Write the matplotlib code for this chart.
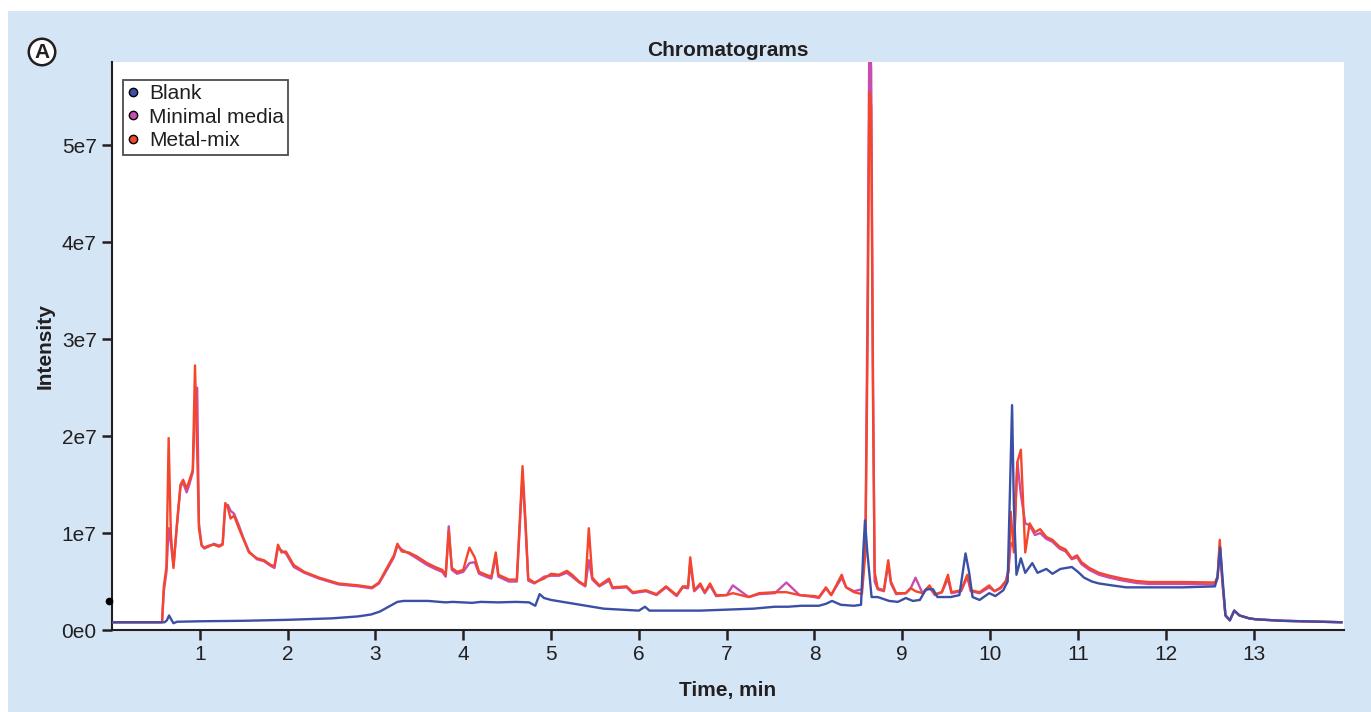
import matplotlib
matplotlib.use("Agg")
import matplotlib.pyplot as plt
from matplotlib.lines import Line2D
from matplotlib.patches import Rectangle
import numpy as np

plt.rcParams['font.family'] = ['Liberation Sans', 'DejaVu Sans']

# ---------------- data (intensity in millions) ----------------
metal_t = [0.00, 0.30, 0.57, 0.59, 0.62, 0.645, 0.67, 0.70, 0.74, 0.78, 0.81, 0.85, 0.88, 0.92, 0.945, 0.97, 0.99,
           1.02, 1.05, 1.10, 1.16, 1.22, 1.26, 1.29, 1.32, 1.35, 1.39, 1.44, 1.50, 1.56, 1.65, 1.73, 1.81, 1.85,
           1.89, 1.93, 1.98, 2.07, 2.19, 2.36, 2.58, 2.81, 2.96, 3.04, 3.13, 3.21, 3.25, 3.30, 3.38, 3.47, 3.59,
           3.68, 3.76, 3.80, 3.835, 3.87, 3.93, 4.00, 4.07, 4.13, 4.18, 4.26, 4.32, 4.37, 4.40, 4.52, 4.61, 4.675,
           4.71, 4.74, 4.81, 4.92, 5.00, 5.09, 5.18, 5.24, 5.32, 5.39, 5.43, 5.47, 5.55, 5.66, 5.70, 5.86, 5.93,
           6.08, 6.20, 6.31, 6.43, 6.50, 6.56, 6.585, 6.63, 6.70, 6.75, 6.81, 6.88, 7.00, 7.07, 7.25, 7.37, 7.55,
           7.68, 7.83, 8.00, 8.05, 8.13, 8.19, 8.31, 8.36, 8.45, 8.54, 8.58, 8.605, 8.625, 8.645, 8.665, 8.685,
           8.72, 8.79,
           8.84, 8.87, 8.93, 9.04, 9.10, 9.15, 9.23, 9.31, 9.37, 9.45, 9.52, 9.56, 9.67, 9.74, 9.78, 9.88, 9.99,
           10.05, 10.12, 10.18, 10.21, 10.235, 10.27, 10.31, 10.35, 10.40, 10.45, 10.51, 10.57, 10.64, 10.71,
           10.79, 10.86, 10.93, 10.99, 11.04, 11.13, 11.24, 11.36, 11.51, 11.67, 11.81, 12.20, 12.56, 12.59,
           12.615, 12.645, 12.68, 12.73, 12.78, 12.84, 12.95, 13.03, 13.33, 14.00]
metal_v = [0.8, 0.8, 0.8, 4.5, 6.5, 19.8, 10.0, 6.4, 11.0, 15.0, 15.5, 14.6, 15.4, 16.5, 27.3, 18.5, 10.5,
           8.7, 8.5, 8.7, 8.8, 8.6, 8.8, 13.1, 12.6, 11.5, 11.8, 10.6, 9.3, 8.0, 7.4, 7.2, 6.7, 6.6,
           8.8, 8.0, 8.1, 6.7, 6.0, 5.4, 4.8, 4.6, 4.4, 4.9, 6.4, 7.7, 8.9, 8.1, 8.0, 7.6, 6.9,
           6.5, 6.2, 5.7, 10.2, 6.4, 6.0, 6.2, 8.5, 7.5, 6.0, 5.7, 5.5, 8.0, 5.7, 5.2, 5.2, 16.9,
           11.0, 5.3, 4.9, 5.3, 5.8, 5.7, 6.1, 5.7, 5.0, 4.6, 10.5, 5.4, 4.6, 5.3, 4.4, 4.5, 3.9,
           4.1, 3.7, 4.5, 3.6, 4.5, 4.5, 7.5, 4.1, 4.8, 3.9, 4.8, 3.6, 3.6, 3.8, 3.4, 3.8, 3.9,
           3.9, 3.6, 3.5, 3.4, 4.4, 3.6, 5.7, 4.4, 3.9, 3.7, 8.0, 30.0, 55.5, 54.0, 25.0, 6.0,
           4.3, 4.1,
           7.2, 5.0, 3.8, 3.8, 4.3, 4.0, 3.8, 4.6, 3.7, 3.9, 5.7, 3.9, 4.1, 5.7, 4.1, 3.9, 4.6,
           4.0, 4.3, 5.0, 6.0, 12.2, 8.0, 17.3, 18.6, 8.0, 11.0, 10.1, 10.4, 9.6, 9.3,
           8.6, 8.3, 7.4, 7.7, 7.0, 6.4, 5.9, 5.6, 5.3, 5.05, 4.95, 4.95, 4.9, 5.5,
           9.3, 5.0, 1.5, 1.0, 2.0, 1.5, 1.2, 1.1, 0.95, 0.8]

minimal_t = metal_t
minimal_v = [0.8, 0.8, 0.8, 4.0, 6.0, 10.5, 9.0, 6.6, 10.8, 14.8, 15.2, 14.2, 15.0, 16.3, 23.0, 25.0, 11.0,
             8.8, 8.4, 8.6, 8.9, 8.7, 8.9, 12.8, 12.9, 12.3, 12.0, 10.9, 9.4, 8.1, 7.3, 7.1, 6.6, 6.4,
             8.5, 8.2, 7.9, 6.5, 5.9, 5.3, 4.7, 4.5, 4.3, 4.8, 6.2, 7.5, 8.7, 8.3, 7.9, 7.4, 6.7,
             6.3, 6.0, 5.5, 10.7, 6.2, 5.8, 6.0, 6.9, 7.0, 5.8, 5.5, 5.3, 7.6, 5.5, 5.0, 5.0, 16.0,
             10.5, 5.1, 4.8, 5.5, 5.6, 5.6, 5.9, 5.5, 4.9, 4.5, 7.2, 5.2, 4.5, 5.1, 4.3, 4.4, 3.8,
             4.0, 3.6, 4.4, 3.5, 4.4, 4.3, 7.0, 4.0, 4.6, 3.8, 4.6, 3.5, 3.6, 4.6, 3.4, 3.7, 3.8,
             4.9, 3.6, 3.4, 3.3, 4.3, 3.6, 5.4, 4.4, 4.0, 4.2, 9.0, 35.0, 62.0, 58.0, 28.0, 5.0,
             4.2, 4.0,
             6.8, 4.8, 3.7, 3.8, 4.4, 5.4, 3.8, 4.4, 3.6, 3.9, 5.3, 3.8, 4.0, 5.5, 4.0, 3.8, 4.4,
             4.0, 4.4, 5.1, 6.3, 9.0, 8.5, 17.3, 14.0, 11.0, 10.8, 9.8, 10.0, 9.4, 9.1,
             8.4, 8.1, 7.3, 7.5, 6.8, 6.2, 5.7, 5.4, 5.1, 4.85, 4.75, 4.75, 4.7, 5.3,
             8.6, 4.9, 1.5, 1.0, 2.0, 1.5, 1.2, 1.1, 0.95, 0.8]

blank_t = [0.00, 0.60, 0.625, 0.65, 0.68, 0.70, 0.74, 1.00, 1.50, 2.00, 2.50, 2.80, 2.95, 3.05, 3.15, 3.25,
           3.32, 3.60, 3.80, 3.88, 4.10, 4.20, 4.40, 4.60, 4.75, 4.82, 4.87, 4.92, 5.00, 5.20, 5.40, 5.60,
           5.80, 6.00, 6.07, 6.12, 6.35, 6.70, 7.00, 7.30, 7.55, 7.70, 7.85, 8.05, 8.13, 8.20, 8.30, 8.45,
           8.53, 8.555, 8.575, 8.60, 8.65, 8.72, 8.85, 8.95, 9.04, 9.12, 9.20, 9.27, 9.35, 9.40, 9.55, 9.65,
           9.72, 9.76, 9.80, 9.88, 9.99, 10.06, 10.15, 10.20, 10.225, 10.25, 10.27, 10.30, 10.35, 10.40,
           10.48, 10.54, 10.64, 10.71, 10.80, 10.93, 11.00, 11.07, 11.16, 11.24, 11.39, 11.55, 11.81, 12.20,
           12.56, 12.59, 12.62, 12.65, 12.68, 12.73, 12.78, 12.84, 12.95, 13.03, 13.33, 14.00]
blank_v = [0.8, 0.8, 1.0, 1.5, 1.0, 0.7, 0.85, 0.9, 0.95, 1.05, 1.2, 1.4, 1.6, 1.9, 2.4, 2.9,
           3.0, 3.0, 2.85, 2.9, 2.8, 2.9, 2.85, 2.9, 2.85, 2.5, 3.7, 3.3, 3.1, 2.8, 2.5, 2.2,
           2.1, 2.0, 2.4, 2.0, 2.0, 2.0, 2.1, 2.2, 2.4, 2.4, 2.5, 2.5, 2.7, 3.0, 2.6, 2.5,
           2.6, 8.0, 11.3, 8.2, 3.4, 3.4, 3.0, 2.9, 3.3, 3.0, 3.1, 4.2, 4.2, 3.4, 3.4, 3.6,
           7.9, 6.0, 3.4, 3.1, 3.8, 3.5, 4.1, 5.0, 14.0, 23.2, 13.0, 5.7, 7.4, 5.9,
           6.9, 5.9, 6.3, 5.8, 6.3, 6.5, 6.0, 5.4, 5.0, 4.8, 4.6, 4.4, 4.4, 4.4,
           4.5, 5.5, 8.5, 5.0, 1.5, 1.0, 2.0, 1.5, 1.2, 1.1, 0.95, 0.8]

series_labels = ['Blank', 'Minimal media', 'Metal-mix']
x_ticks = list(range(1, 14))
y_ticks = [0, 1e7, 2e7, 3e7, 4e7, 5e7]
y_tick_labels = ['0e0', '1e7', '2e7', '3e7', '4e7', '5e7']

# ---------------- figure ----------------
BG = '#d4e6f5'
C_BLANK = '#3b4fa6'
C_MIN = '#c84db0'
C_METAL = '#f4462b'
DARK = '#231f20'

fig = plt.figure(figsize=(13.71, 7.12), dpi=100, facecolor='white')
fig.patches.append(Rectangle((8 / 1371, 0), 1 - 8 / 1371, 1 - 11 / 712, transform=fig.transFigure,
                             facecolor=BG, edgecolor='none', zorder=-10))

ax = fig.add_axes([112 / 1371, 82 / 712, (1344 - 112) / 1371, (630 - 62) / 712])
ax.set_facecolor('white')

scale = 1e6
ax.plot(minimal_t, np.array(minimal_v) * scale, color=C_MIN, lw=1.7, zorder=2)
ax.plot(metal_t, np.array(metal_v) * scale, color=C_METAL, lw=1.7, zorder=3)
ax.plot(blank_t, np.array(blank_v) * scale, color=C_BLANK, lw=1.7, zorder=4)

ax.set_xlim(0, 14.03)
ax.set_ylim(0, 5.86e7)

for s in ['top', 'right']:
    ax.spines[s].set_visible(False)
for s in ['left', 'bottom']:
    ax.spines[s].set_color(DARK)
    ax.spines[s].set_linewidth(1.5)

ax.set_xticks(x_ticks)
ax.set_xticklabels([str(v) for v in x_ticks])
ax.set_yticks(y_ticks)
ax.set_yticklabels(y_tick_labels)
ax.tick_params(axis='both', direction='out', length=7, width=1.8, color=DARK,
               labelsize=15, labelcolor=DARK, pad=4)

ax.set_xlabel('Time, min', fontsize=15, fontweight='bold', color=DARK, labelpad=12)
ax.set_ylabel('Intensity', fontsize=15, fontweight='bold', color=DARK, labelpad=5)
ax.set_title('Chromatograms', fontsize=15, fontweight='bold', color=DARK, pad=4)

# small marker on y axis
ax.plot([-0.03], [3.0e6], marker='o', ms=4.5, color='black', clip_on=False, zorder=5)

handles = [Line2D([], [], ls='none', marker='o', ms=6, markerfacecolor=c, markeredgecolor='black', mew=1.0)
           for c in (C_BLANK, C_MIN, C_METAL)]
leg = ax.legend(handles, series_labels, loc='upper left', bbox_to_anchor=(11 / 1232, 1 - 18 / 568),
                borderaxespad=0, frameon=True, fancybox=False, fontsize=15, handlelength=0.6,
                handletextpad=0.45, labelspacing=0.22, borderpad=0.2, edgecolor=DARK)
leg.get_frame().set_linewidth(1.3)
for t in leg.get_texts():
    t.set_color(DARK)

fig.text(42 / 1371, 1 - 52 / 712, 'A', fontsize=15, fontweight='bold', color=DARK, ha='center', va='center',
         bbox=dict(boxstyle='circle,pad=0.18', facecolor='white', edgecolor=DARK, linewidth=1.8))

fig.savefig('out.png', dpi=100, facecolor=fig.get_facecolor())
